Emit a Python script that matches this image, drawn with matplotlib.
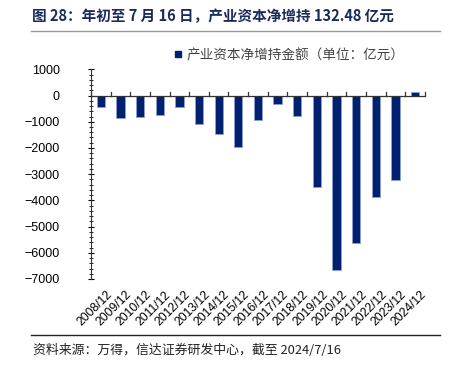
import matplotlib
matplotlib.use("Agg")
import matplotlib.pyplot as plt
import matplotlib.transforms as mtransforms
from matplotlib.ticker import MultipleLocator
from matplotlib.lines import Line2D

plt.rcParams['font.family'] = ['Liberation Sans', 'Noto Sans CJK SC', 'DejaVu Sans']

# data (unit: 100 million yuan)
years = ['2008/12', '2009/12', '2010/12', '2011/12', '2012/12', '2013/12', '2014/12',
         '2015/12', '2016/12', '2017/12', '2018/12', '2019/12', '2020/12', '2021/12',
         '2022/12', '2023/12', '2024/12']
net_increase = [-430, -865, -810, -760, -430, -1080, -1450, -1950, -950, -320, -775,
                -3480, -6650, -5610, -3890, -3210, 132.48]

title = '图 28：年初至 7 月 16 日，产业资本净增持 132.48 亿元'
legend_label = '产业资本净增持金额（单位：亿元）'
source = '资料来源：万得，信达证券研发中心，截至 2024/7/16'

navy = '#002070'

fig = plt.figure(figsize=(4.54, 3.67), dpi=100)
ax = fig.add_axes([0.2004, 0.2398, 0.7356, 0.5712])

x = range(len(years))
ax.bar(x, net_increase, width=0.42, color=navy, edgecolor='#8da0d0', linewidth=0.6,
       label=legend_label, zorder=2)

ax.set_xlim(-0.5, len(years) - 0.5)
ax.set_ylim(-7000, 1000)
ax.yaxis.set_major_locator(MultipleLocator(1000))
ax.yaxis.set_minor_locator(MultipleLocator(200))
ax.tick_params(axis='y', which='major', direction='inout', length=5, width=0.8,
               labelsize=9, pad=20)
ax.tick_params(axis='y', which='minor', direction='inout', length=3, width=0.6)

for s in ['top', 'right', 'bottom']:
    ax.spines[s].set_visible(False)
ax.spines['left'].set_color('#333333')

# zero line with category-boundary ticks pointing up
ax.axhline(0, color='#333333', lw=0.9, zorder=3)
for b in [i + 0.5 for i in range(-1, len(years))]:
    ax.plot([b, b], [0, 130], color='#333333', lw=0.9, zorder=3, clip_on=False)

ax.set_xticks(list(x))
ax.set_xticklabels(years, rotation=45, ha='right', rotation_mode='anchor', fontsize=8.8)
ax.tick_params(axis='x', which='major', length=0, pad=7)
offset = mtransforms.ScaledTranslation(0.05, 0, fig.dpi_scale_trans)
for lbl in ax.get_xticklabels():
    lbl.set_transform(lbl.get_transform() + offset)

# legend
h = [Line2D([0], [0], marker='s', color='none', markerfacecolor=navy,
            markeredgecolor=navy, markersize=5)]
fig.legend(h, [legend_label], loc='center', bbox_to_anchor=(0.635, 0.85), frameon=False,
           prop={'family': ['Noto Sans CJK SC'], 'size': 9.8}, handlelength=0.8,
           handletextpad=0.2, labelcolor='#444444')

fig.text(0.07, 0.957, title, fontsize=10.5, fontweight='bold', color='#1a2a5c',
         family=['Noto Sans CJK SC', 'DejaVu Sans'], va='center', ha='left')
fig.add_artist(Line2D([0.068, 0.969], [0.915, 0.915], color='#999999', lw=1.0))
fig.add_artist(Line2D([0.068, 0.969], [0.087, 0.087], color='#222222', lw=1.0))
fig.text(0.073, 0.045, source, fontsize=9.3, style='italic', color='#222222',
         family=['Noto Sans CJK SC', 'DejaVu Sans'], va='center', ha='left')

fig.savefig('out.png', dpi=100)
